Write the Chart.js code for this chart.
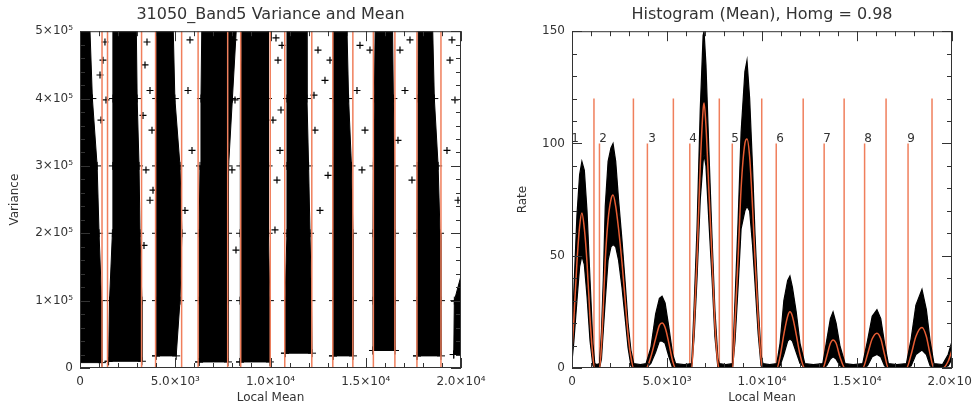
<!DOCTYPE html>
<html>
<head>
<meta charset="utf-8">
<script src="https://cdn.jsdelivr.net/npm/chart.js@4.4.0/dist/chart.umd.min.js"></script>
<style>
  html, body { margin: 0; padding: 0; background: #fff; }
  #wrap { position: relative; width: 972px; height: 414px; }
  .box { position: absolute; top: 0; width: 486px; height: 414px; }
</style>
</head>
<body>
<div id="wrap">
  <div class="box" style="left:0"><canvas id="scatter"></canvas></div>
  <div class="box" style="left:486px"><canvas id="hist"></canvas></div>
</div>
<script>
// ---- axis ticks ----
const meanTickValues = [0, 5000, 10000, 15000, 20000];
const meanTickLabels = ['0', '5.0×10³', '1.0×10⁴', '1.5×10⁴', '2.0×10⁴'];
const varTickValues = [0, 100000, 200000, 300000, 400000, 500000];
const varTickLabels = ['0', '1×10⁵', '2×10⁵', '3×10⁵', '4×10⁵', '5×10⁵'];
const rateTickValues = [0, 50, 100, 150];
const rateTickLabels = ['0', '50', '100', '150'];

// ---- class boundaries (local mean) ----
const classStart = [1445, 3968, 6200, 8436, 10749, 13271, 15400, 17687];
const classEnd = [1156, 3232, 5335, 7753, 9986, 12168, 14323, 16530, 18948];
const classStartTop = 100;   // rate height of start markers
const classEndTop = 120;     // rate height of end markers
const classLabels = ['1', '2', '3', '4', '5', '6', '7', '8', '9'];
const classLabelX = [160, 1630, 4210, 6370, 8580, 10950, 13420, 15580, 17840];
const classLabelY = 102;

// ---- variance/mean scatter: dense clusters as left/right edges per variance level ----
// level 0 is the cluster bottom (stripeBottom), then these variance levels
const varianceLevels = [100000, 200000, 300000, 400000, 520000];
const stripeBottom = [8000, 10000, 18000, 9000, 9000, 22000, 18000, 26000, 18000, 20000];
const stripeLeft = [
  [-600, -600, -600, -600, -600, -600],
  [1500, 1550, 1700, 1720, 1730, 1730],
  [3990, 3990, 3990, 3990, 4000, 4040],
  [6250, 6250, 6250, 6300, 6350, 6400],
  [8400, 8400, 8400, 8420, 8450, 8500],
  [10760, 10760, 10865, 10865, 10865, 10865],
  [13280, 13280, 13280, 13280, 13300, 13300],
  [15380, 15380, 15380, 15400, 15450, 15500],
  [17690, 17690, 17690, 17700, 17740, 17750],
  [19620, 19650, 20600, 20600, 20600, 20600]
];
const stripeRight = [
  [1150, 1130, 1000, 900, 650, 500],
  [3250, 3250, 3150, 3100, 3000, 2950],
  [5050, 5250, 5350, 5250, 4980, 4880],
  [7770, 7770, 7770, 7800, 8000, 8240],
  [9970, 9970, 9900, 9900, 9870, 9870],
  [12180, 12150, 12073, 12000, 11915, 11900],
  [14330, 14330, 14330, 14250, 14100, 14000],
  [16535, 16535, 16535, 16500, 16450, 16400],
  [18950, 18950, 18900, 18800, 18600, 18500],
  [20400, 20400, 20400, 20400, 20400, 20400]
];
// isolated points between the clusters
const outlierMean = [1310, 1207, 1050, 1365, 1102, 3517, 3412, 3674, 3307, 3779, 3464, 3674, 3359, 3832,
  5774, 5669, 5879, 5511, 8083, 8136, 7978, 8188, 10288, 10393, 10603, 10130, 10498, 10340, 10550, 10235,
  12493, 12860, 12335, 13018, 12598, 13123, 12283, 14697, 14540, 14960, 15222, 14802,
  16797, 17322, 17059, 16692, 17427, 19421, 19684, 19264, 19842, 19526];
const outlierVar = [484000, 457000, 435000, 398000, 368000, 484000, 450000, 412000, 375000, 353000, 294000, 249000, 182000, 264000,
  487000, 412000, 323000, 234000, 487000, 398000, 294000, 175000, 490000, 457000, 479000, 368000, 323000, 279000, 383000, 205000,
  472000, 427000, 353000, 286000, 234000, 457000, 405000, 479000, 412000, 353000, 472000, 294000,
  472000, 487000, 412000, 338000, 279000, 457000, 398000, 323000, 249000, 487000];

// ---- histogram of the local mean ----
const histX = [0, 100, 260, 400, 520, 650, 790, 950, 1100, 1200, 1300,
  1450, 1550, 1650, 1750, 1900, 2050, 2160, 2300, 2450, 2630, 2800, 2950, 3100, 3250, 3600,
  3900, 4150, 4400, 4600, 4740, 4900, 5100, 5300, 5450, 5900,
  6300, 6430, 6580, 6750, 6900, 6950, 7050, 7200, 7370, 7520, 7680, 7750, 8100,
  8450, 8580, 8740, 8900, 9100, 9210, 9350, 9500, 9630, 9800, 9950, 10050, 10400,
  10780, 10950, 11150, 11350, 11470, 11600, 11800, 12000, 12250, 12700,
  13200, 13400, 13600, 13740, 13900, 14100, 14370, 14800,
  15300, 15550, 15800, 16050, 16250, 16450, 16650, 17100,
  17600, 17850, 18100, 18420, 18650, 18850, 19050,
  19500, 19800, 20000];
const histMean = [8, 22, 47, 63, 69, 62, 47, 22, 5, 0, 0,
  0, 10, 28, 48, 66, 75, 77, 72, 62, 47, 30, 15, 5, 0, 0,
  0, 5, 13, 19, 20, 18, 11, 3, 0, 0,
  0, 20, 49, 90, 115, 118, 108, 80, 49, 20, 2, 0, 0,
  0, 20, 49, 80, 100, 102, 94, 72, 49, 22, 4, 0, 0,
  0, 5, 15, 23, 25, 23, 15, 6, 0, 0,
  0, 5, 11, 12.5, 11, 5, 0, 0,
  0, 6, 13, 15.5, 13, 6, 0, 0,
  0, 6, 14, 18, 14, 6, 0,
  0, 3, 8];
const histUpper = [14, 35, 68, 86, 92, 88, 70, 39, 11, 2, 1.5,
  2, 16, 40, 72, 92, 98, 100, 92, 75, 57, 38, 20, 8, 2, 1.5,
  2, 9, 24, 31, 32, 29, 18, 6, 2, 1.5,
  2, 28, 62, 115, 148, 150, 135, 98, 58, 26, 4, 2, 1.5,
  2, 30, 65, 105, 132, 137, 120, 90, 60, 28, 6, 2, 1.5,
  2, 11, 30, 39, 41, 36, 25, 11, 2, 1.5,
  2, 12, 22, 25, 20, 10, 2, 1.5,
  2, 12, 23, 26, 22, 11, 2, 1.5,
  2, 13, 28, 35, 26, 12, 2,
  1.5, 6, 12];
const histLower = [3, 12, 30, 45, 50, 46, 32, 12, 1, 0, 0,
  0, 4, 17, 30, 48, 54, 55, 54, 48, 36, 22, 9, 1, 0, 0,
  0, 2, 7, 12, 12, 11, 5, 0, 0, 0,
  0, 14, 40, 75, 92, 95, 90, 66, 40, 14, 0, 0, 0,
  0, 12, 36, 62, 70, 72, 70, 55, 38, 15, 1, 0, 0,
  0, 1, 6, 12, 13, 12, 7, 2, 0, 0,
  0, 1, 4, 5, 4, 1, 0, 0,
  0, 1, 5, 6, 5, 1, 0, 0,
  0, 1, 6, 8, 6, 1, 0,
  0, 1, 4];

const FONT = 'DejaVu Sans';
const TEXT = '#333';
const ORANGE = '#f07f5c';
const CURVE = '#e85d33';

// inward IDL-style ticks and box
const framePlugin = {
  id: 'frame',
  afterDatasetsDraw(chart, args, o) {
    const { ctx, chartArea: a, scales: { x, y } } = chart;
    ctx.save();
    ctx.strokeStyle = '#333';
    ctx.lineWidth = 1;
    ctx.strokeRect(a.left + 0.5, a.top + 0.5, a.right - a.left - 1, a.bottom - a.top - 1);
    ctx.beginPath();
    const nx = Math.round((x.max - x.min) / o.xMinor);
    for (let i = 0; i <= nx; i++) {
      const p = Math.round(x.getPixelForValue(x.min + i * o.xMinor)) + 0.5;
      const len = i % o.xPer === 0 ? 10 : 5;
      ctx.moveTo(p, a.bottom); ctx.lineTo(p, a.bottom - len);
      ctx.moveTo(p, a.top); ctx.lineTo(p, a.top + len);
    }
    const ny = Math.round((y.max - y.min) / o.yMinor);
    for (let i = 0; i <= ny; i++) {
      const p = Math.round(y.getPixelForValue(y.min + i * o.yMinor)) + 0.5;
      const len = i % o.yPer === 0 ? 10 : 5;
      ctx.moveTo(a.left, p); ctx.lineTo(a.left + len, p);
      ctx.moveTo(a.right, p); ctx.lineTo(a.right - len, p);
    }
    ctx.stroke();
    ctx.restore();
  }
};

const classLabelPlugin = {
  id: 'classLabels',
  afterDatasetsDraw(chart) {
    const { ctx, scales: { x, y } } = chart;
    ctx.save();
    ctx.font = '12px "' + FONT + '"';
    ctx.fillStyle = TEXT;
    ctx.textAlign = 'center';
    ctx.textBaseline = 'middle';
    classLabels.forEach((t, i) => ctx.fillText(t, x.getPixelForValue(classLabelX[i]), y.getPixelForValue(classLabelY)));
    ctx.restore();
  }
};

function xScale(titlePadBottom) {
  return {
    type: 'linear', min: 0, max: 20000,
    grid: { display: false, drawTicks: false },
    border: { display: false },
    afterBuildTicks: s => { s.ticks = meanTickValues.map(v => ({ value: v })); },
    ticks: {
      autoSkip: false, maxRotation: 0, padding: 7, color: TEXT,
      font: { family: FONT, size: 12 },
      callback: v => meanTickLabels[meanTickValues.indexOf(v)]
    },
    title: { display: true, text: 'Local Mean', color: TEXT, font: { family: FONT, size: 12 }, padding: { top: 0, bottom: titlePadBottom } },
    afterFit: s => { s.height = 46; s.paddingLeft = 0; s.paddingRight = 0; }
  };
}

function yScale(max, vals, labels, width, titleText, titlePad) {
  return {
    type: 'linear', min: 0, max: max,
    grid: { display: false, drawTicks: false },
    border: { display: false },
    afterBuildTicks: s => { s.ticks = vals.map(v => ({ value: v })); },
    ticks: {
      autoSkip: false, padding: 7, color: TEXT,
      font: { family: FONT, size: 12 },
      callback: v => labels[vals.indexOf(v)]
    },
    title: { display: true, text: titleText, color: TEXT, font: { family: FONT, size: 12 }, padding: { top: titlePad, bottom: 0 } },
    afterFit: s => { s.width = width; s.paddingTop = 0; s.paddingBottom = 0; }
  };
}

function titleOpts(text) {
  return {
    display: true, text: text, fullSize: false, color: TEXT,
    font: { family: FONT, size: 16, weight: 'normal' },
    padding: { top: 5, bottom: 7 }
  };
}

// ---------- left chart ----------
const scatterSets = [];
classStart.concat(classEnd).forEach(v => {
  scatterSets.push({
    data: [{ x: v, y: 0 }, { x: v, y: 500000 }],
    showLine: true, borderColor: ORANGE, borderWidth: 1.5, pointRadius: 0, order: 0
  });
});
scatterSets.push({
  data: outlierMean.map((m, i) => ({ x: m, y: outlierVar[i] })),
  pointStyle: 'cross', pointRadius: 3.5, borderColor: '#000', borderWidth: 1.2, order: 1
});
stripeLeft.forEach((left, i) => {
  const levels = [stripeBottom[i]].concat(varianceLevels);
  const pts = levels.map((v, k) => ({ x: left[k], y: v }));
  for (let k = levels.length - 1; k >= 0; k--) pts.push({ x: stripeRight[i][k], y: levels[k] });
  pts.push(pts[0]);
  scatterSets.push({
    data: pts, showLine: true, fill: 'shape',
    backgroundColor: '#000', borderColor: '#000', borderWidth: 1,
    pointStyle: 'cross', pointRadius: 4, pointBorderColor: '#000', order: 2
  });
});

new Chart(document.getElementById('scatter'), {
  type: 'scatter',
  data: { datasets: scatterSets },
  options: {
    responsive: true, maintainAspectRatio: false, animation: false,
    layout: { padding: { left: 0, right: 25, top: 0, bottom: 0 } },
    plugins: {
      legend: { display: false }, tooltip: { enabled: false },
      title: titleOpts('31050_Band5 Variance and Mean'),
      frame: { xMinor: 1000, xPer: 5, yMinor: 20000, yPer: 5 }
    },
    scales: {
      x: xScale(9),
      y: yScale(500000, varTickValues, varTickLabels, 80, 'Variance', 8)
    }
  },
  plugins: [framePlugin]
});

// ---------- right chart ----------
const histSets = [
  {
    data: histX.map((x, i) => ({ x: x, y: histMean[i] })),
    showLine: true, borderColor: CURVE, borderWidth: 1.5, pointRadius: 0,
    cubicInterpolationMode: 'monotone', order: 0
  },
  {
    data: histX.map((x, i) => ({ x: x, y: histUpper[i] })),
    showLine: true, borderColor: '#000', borderWidth: 1.2, pointRadius: 0,
    fill: '+1', backgroundColor: '#000', order: 1
  },
  {
    data: histX.map((x, i) => ({ x: x, y: histLower[i] })),
    showLine: true, borderColor: '#000', borderWidth: 1.2, pointRadius: 0, order: 1
  }
];
classStart.forEach(v => histSets.push({
  data: [{ x: v, y: 0 }, { x: v, y: classStartTop }],
  showLine: true, borderColor: ORANGE, borderWidth: 1.5, pointRadius: 0, order: 3
}));
classEnd.forEach(v => histSets.push({
  data: [{ x: v, y: 0 }, { x: v, y: classEndTop }],
  showLine: true, borderColor: ORANGE, borderWidth: 1.5, pointRadius: 0, order: 3
}));

new Chart(document.getElementById('hist'), {
  type: 'scatter',
  data: { datasets: histSets },
  options: {
    responsive: true, maintainAspectRatio: false, animation: false,
    layout: { padding: { left: 0, right: 20, top: 0, bottom: 0 } },
    plugins: {
      legend: { display: false }, tooltip: { enabled: false },
      title: titleOpts('Histogram (Mean), Homg = 0.98'),
      frame: { xMinor: 1000, xPer: 5, yMinor: 10, yPer: 5 }
    },
    scales: {
      x: xScale(9),
      y: yScale(150, rateTickValues, rateTickLabels, 86, 'Rate', 30)
    }
  },
  plugins: [framePlugin, classLabelPlugin]
});
</script>
</body>
</html>
